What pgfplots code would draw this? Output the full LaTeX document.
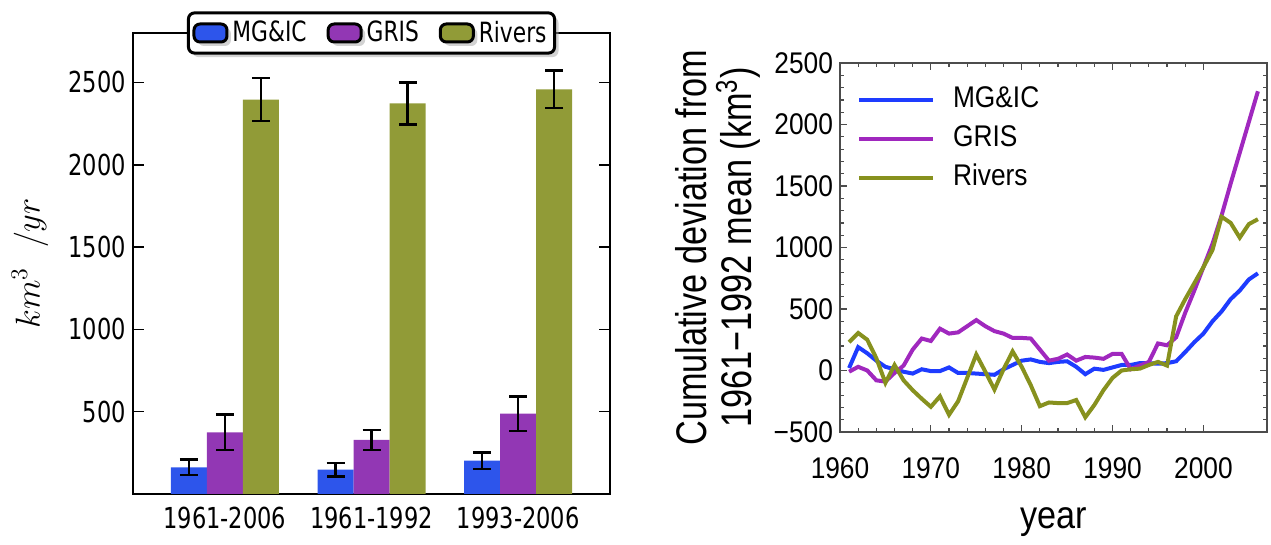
\documentclass[border=0pt]{standalone}
\usepackage{pgfplots}
\pgfplotsset{compat=1.18}
\usepackage{fontspec}
\setmainfont{Liberation Sans}
\newfontfamily\leftfont[FakeStretch=0.78]{DejaVu Sans}
\newfontfamily\rightfont[FakeStretch=0.88]{Liberation Sans}
\usetikzlibrary{shadows}

\definecolor{barblue}{RGB}{45,85,235}
\definecolor{barpurple}{RGB}{146,55,180}
\definecolor{barolive}{RGB}{145,155,55}
\definecolor{lblue}{RGB}{30,60,255}
\definecolor{lpurple}{RGB}{160,40,190}
\definecolor{lolive}{RGB}{135,145,30}

\pgfplotsset{
  boxlegend/.style={legend image code/.code={\draw[##1,draw=black,line width=1.5bp] (0bp,-4.5bp) rectangle (16.5bp,4.5bp);}},
}

\begin{document}
\begin{tikzpicture}
\useasboundingbox (0bp,0bp) rectangle (635.5bp,272.5bp);

% ---------------- left: bar chart ----------------
\begin{axis}[
  at={(66.5bp,25.5bp)}, anchor=south west,
  width=238.5bp, height=230.5bp, scale only axis,
  ymin=0, ymax=2800,
  xmin=-0.626, xmax=2.626,
  xtick={0,1,2}, xticklabels={1961-2006,1961-1992,1993-2006},
  ytick={500,1000,1500,2000,2500},
  ybar=0pt, bar width=18bp,
  tick align=inside, xtick pos=bottom, ytick pos=both,
  major tick length=5.5bp,
  tick style={black, line width=0.8bp},
  axis line style={line width=0.8bp},
  /pgf/number format/assume math mode=true,
  /pgf/number format/1000 sep={},
  yticklabel style={font=\leftfont\fontsize{14.5}{16}\selectfont},
  xticklabel style={font=\leftfont\fontsize{14.5}{16}\selectfont, yshift=-3bp},
  ylabel={$km^3\;\ /yr$},
  ylabel style={at={(axis description cs:-0.216,0.5)}, anchor=center, font=\fontsize{18.5}{22}\selectfont},
  legend columns=3,
  legend style={at={(0.5,1)}, anchor=center, draw=black, line width=1.5bp,
    rounded corners=3bp, fill=white,
    drop shadow={shadow xshift=2bp, shadow yshift=-2bp, fill=black!35},
    font=\leftfont\fontsize{14}{16}\selectfont,
    inner sep=2bp,
    /tikz/every even column/.append style={column sep=8bp}},
]
\addplot[fill=barblue, draw=none, boxlegend,
  error bars/.cd, y dir=both, y explicit,
  error bar style={black, line width=1.2bp},
  error mark options={black, line width=1.2bp, mark size=4.5bp, rotate=90}]
  coordinates {(0,162) +- (0,47) (1,148) +- (0,42) (2,202) +- (0,50)};
\addplot[fill=barpurple, draw=none, boxlegend,
  error bars/.cd, y dir=both, y explicit,
  error bar style={black, line width=1.2bp},
  error mark options={black, line width=1.2bp, mark size=4.5bp, rotate=90}]
  coordinates {(0,375) +- (0,107) (1,328) +- (0,60) (2,488) +- (0,105)};
\addplot[fill=barolive, draw=none, boxlegend,
  error bars/.cd, y dir=both, y explicit,
  error bar style={black, line width=1.2bp},
  error mark options={black, line width=1.2bp, mark size=4.5bp, rotate=90}]
  coordinates {(0,2395) +- (0,130) (1,2372) +- (0,128) (2,2458) +- (0,115)};
\legend{MG\&IC, GRIS, Rivers}
\end{axis}

% ---------------- right: line chart ----------------
\begin{axis}[
  at={(420bp,56.5bp)}, anchor=south west,
  width=213.5bp, height=184.5bp, scale only axis,
  xmin=1960, xmax=2007, ymin=-500, ymax=2500,
  xtick={1960,1970,1980,1990,2000},
  ytick={-500,0,500,1000,1500,2000,2500},
  yticklabels={−500,0,500,1000,1500,2000,2500},
  minor x tick num=4, minor y tick num=4,
  tick align=inside, tick pos=both,
  major tick length=3.5bp, minor tick length=2bp,
  axis line style={line width=0.9bp, color=black!70},
  tick style={black!70, line width=0.6bp},
  /pgf/number format/assume math mode=true,
  /pgf/number format/1000 sep={},
  xticklabel style={font=\rightfont\fontsize{15}{17}\selectfont, yshift=-9.5bp},
  yticklabel style={font=\rightfont\fontsize{15}{17}\selectfont},
  xlabel={year},
  xlabel style={at={(axis description cs:0.5,-0.245)}, anchor=center, font=\rightfont\fontsize{19.5}{21}\selectfont},
  ylabel={Cumulative deviation from\\1961−1992 mean (km\textsuperscript{3})},
  ylabel style={align=center, at={(axis description cs:-0.286,0.5)}, anchor=center,
    font=\fontsize{21.5}{23}\selectfont, xscale=0.8},
  legend style={at={(0.025,0.95)}, anchor=north west, draw=none, fill=none,
    font=\rightfont\fontsize{15}{17}\selectfont,
    nodes={inner sep=0pt, text height=11bp, text depth=3bp},
    row sep=5.5bp,
    /tikz/every odd column/.append style={column sep=9bp}},
  legend cell align=left,
  legend image code/.code={\draw[#1, line width=2bp] (0bp,0bp) -- (37bp,0bp);},
]
\addplot[color=lblue, line width=2bp] coordinates {
(1961,20) (1962,190) (1963,140) (1964,80) (1965,30) (1966,10) (1967,-10) (1968,-25)
(1969,10) (1970,-5) (1971,-5) (1972,25) (1973,-20) (1974,-20) (1975,-25) (1976,-30)
(1977,-35) (1978,10) (1979,45) (1980,80) (1981,90) (1982,70) (1983,60) (1984,70)
(1985,75) (1986,30) (1987,-30) (1988,15) (1989,5) (1990,25) (1991,45) (1992,45)
(1993,60) (1994,60) (1995,55) (1996,60) (1997,75) (1998,150) (1999,230) (2000,300)
(2001,400) (2002,480) (2003,580) (2004,650) (2005,740) (2006,790)};
\addplot[color=lpurple, line width=2bp] coordinates {
(1961,-10) (1962,30) (1963,0) (1964,-80) (1965,-90) (1966,-20) (1967,40) (1968,170)
(1969,260) (1970,240) (1971,340) (1972,300) (1973,310) (1974,360) (1975,410) (1976,360)
(1977,320) (1978,300) (1979,265) (1980,265) (1981,260) (1982,170) (1983,80) (1984,95)
(1985,130) (1986,80) (1987,110) (1988,105) (1989,95) (1990,135) (1991,135) (1992,10)
(1993,40) (1994,70) (1995,220) (1996,205) (1997,270) (1998,470) (1999,650) (2000,840)
(2001,1030) (2002,1260) (2003,1520) (2004,1770) (2005,2020) (2006,2270)};
\addplot[color=lolive, line width=2bp] coordinates {
(1961,230) (1962,305) (1963,250) (1964,100) (1965,-100) (1966,45) (1967,-80) (1968,-160)
(1969,-230) (1970,-295) (1971,-210) (1972,-360) (1973,-250) (1974,-60) (1975,130) (1976,-10)
(1977,-155) (1978,10) (1979,155) (1980,30) (1981,-120) (1982,-290) (1983,-260) (1984,-265)
(1985,-265) (1986,-240) (1987,-380) (1988,-280) (1989,-160) (1990,-60) (1991,0) (1992,10)
(1993,15) (1994,45) (1995,70) (1996,40) (1997,440) (1998,580) (1999,710) (2000,840)
(2001,980) (2002,1250) (2003,1200) (2004,1080) (2005,1190) (2006,1230)};
\legend{MG\&IC, GRIS, Rivers}
\end{axis}
\end{tikzpicture}
\end{document}
